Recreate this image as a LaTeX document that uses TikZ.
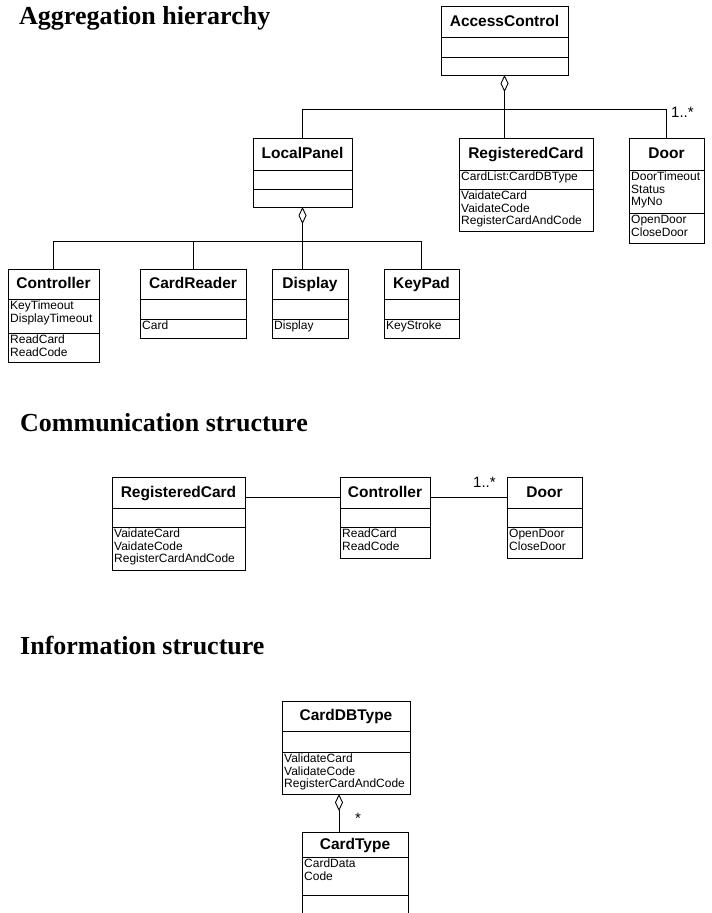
\documentclass[tikz,border=0pt]{standalone}
\usepackage{fontspec}
\setmainfont{Liberation Serif}
\setsansfont{Liberation Sans}
\usetikzlibrary{arrows.meta}
\tikzset{
  boxline/.style={line width=0.9pt},
  classbox/.style={draw, line width=0.9pt, inner sep=0pt, outer sep=0pt},
  titletext/.style={anchor=base, inner sep=0pt, font=\sffamily\bfseries\fontsize{15.5}{17}\selectfont},
  attr/.style={anchor=north west, inner sep=0pt, align=left, font=\sffamily\fontsize{12}{12.5}\selectfont},
  sect/.style={anchor=base west, inner sep=0pt, font=\rmfamily\bfseries\fontsize{26}{30}\selectfont},
  mult/.style={anchor=base west, inner sep=0pt, font=\sffamily\fontsize{15}{17}\selectfont},
  conn/.style={line width=0.9pt},
  aggr/.style={line width=0.9pt, {Diamond[open, length=17pt, width=8pt, line width=0.9pt]}-}
}
% #1 name, #2 left, #3 right, #4 top, #5 first line, #6 second line, #7 bottom, #8 title
\newcommand{\umlbox}[8]{%
  \node[classbox, minimum width=#3-#2, minimum height=#7-#4, anchor=north west] (#1) at (#2,#4) {};
  \draw[boxline] (#2,#5) -- (#3,#5);
  \draw[boxline] (#2,#6) -- (#3,#6);
  \node[titletext] (#1-t) at ({(#2+#3)/2},{(#4+#5)/2+4.5}) {#8};
  \coordinate (#1-m) at ({(#2+#3)/2},{(#4+#5)/2+4.5});
}
\begin{document}
\begin{tikzpicture}[x=1pt, y=-1pt]
\useasboundingbox (0,0) rectangle (712,913);
\clip (0,0) rectangle (712,913);

% ---------------- Aggregation hierarchy ----------------
\node[sect] (t1) at (19,24) {Aggregation hierarchy};

\umlbox{ac}{441}{568}{6}{37}{57}{75}{AccessControl}

\umlbox{lp}{253}{352}{138}{170}{189}{207}{LocalPanel}

\umlbox{rc}{459}{593}{138}{170}{189}{231}{RegisteredCard}
\node[attr] (rc-a) at (461,172) {CardList:CardDBType};
\node[attr] (rc-o) at (461,191) {VaidateCard\\VaidateCode\\RegisterCardAndCode};

\umlbox{dr}{629}{704}{138}{170}{213}{243}{Door}
\node[attr] (dr-a) at (631,172) {DoorTimeout\\Status\\MyNo};
\node[attr] (dr-o) at (631,215) {OpenDoor\\CloseDoor};

\umlbox{ct}{8}{99}{269}{299}{333}{362}{Controller}
\node[attr] (ct-a) at (10,301) {KeyTimeout\\DisplayTimeout};
\node[attr] (ct-o) at (10,335) {ReadCard\\ReadCode};

\umlbox{cr}{140}{246}{269}{299}{319}{338}{CardReader}
\node[attr] (cr-o) at (142,321) {Card};

\umlbox{dp}{272}{348}{269}{299}{319}{338}{Display}
\node[attr] (dp-o) at (274,321) {Display};

\umlbox{kp}{384}{459}{269}{299}{319}{338}{KeyPad}
\node[attr] (kp-o) at (386,321) {KeyStroke};

\coordinate (j1) at (0,109);
\draw[aggr] (ac.south) -- (ac.south |- rc.north);
\draw[conn] (lp.north) -- (lp.north |- j1) -- (dr.north |- j1) -- (dr.north);
\node[mult] (m1) at (671,117) {1..*};

\coordinate (j2) at (0,241);
\draw[aggr] (lp.south) -- (lp.south |- dp.north);
\draw[conn] (ct.north) -- (ct.north |- j2) -- (kp.north |- j2) -- (kp.north);
\draw[conn] (cr.north) -- (cr.north |- j2);

% ---------------- Communication structure ----------------
\node[sect] (t2) at (20,431) {Communication structure};

\umlbox{rc2}{112}{245}{477}{508}{527}{570}{RegisteredCard}
\node[attr] (rc2-o) at (114,529) {VaidateCard\\VaidateCode\\RegisterCardAndCode};

\umlbox{ct2}{340}{430}{477}{508}{527}{558}{Controller}
\node[attr] (ct2-o) at (342,529) {ReadCard\\ReadCode};

\umlbox{dr2}{507}{582}{477}{508}{527}{558}{Door}
\node[attr] (dr2-o) at (509,529) {OpenDoor\\CloseDoor};

\draw[conn] (rc2-m -| rc2.east) -- (ct2-m -| ct2.west);
\draw[conn] (ct2-m -| ct2.east) -- (dr2-m -| dr2.west);
\node[mult] (m2) at (473,487) {1..*};

% ---------------- Information structure ----------------
\node[sect] (t3) at (20,654) {Information structure};

\umlbox{cdb}{282}{410}{701}{731}{752}{794}{CardDBType}
\node[attr] (cdb-o) at (284,754) {ValidateCard\\ValidateCode\\RegisterCardAndCode};

\umlbox{cty}{302}{408}{832}{857}{895}{940}{CardType}
\node[attr] (cty-a) at (304,859) {CardData\\Code};

\coordinate (cdbp) at ([xshift=-7pt]cdb.south);
\draw[aggr] (cdbp) -- (cdbp |- cty.north);
\node[mult] (m3) at (355,823) {*};
\end{tikzpicture}
\end{document}
